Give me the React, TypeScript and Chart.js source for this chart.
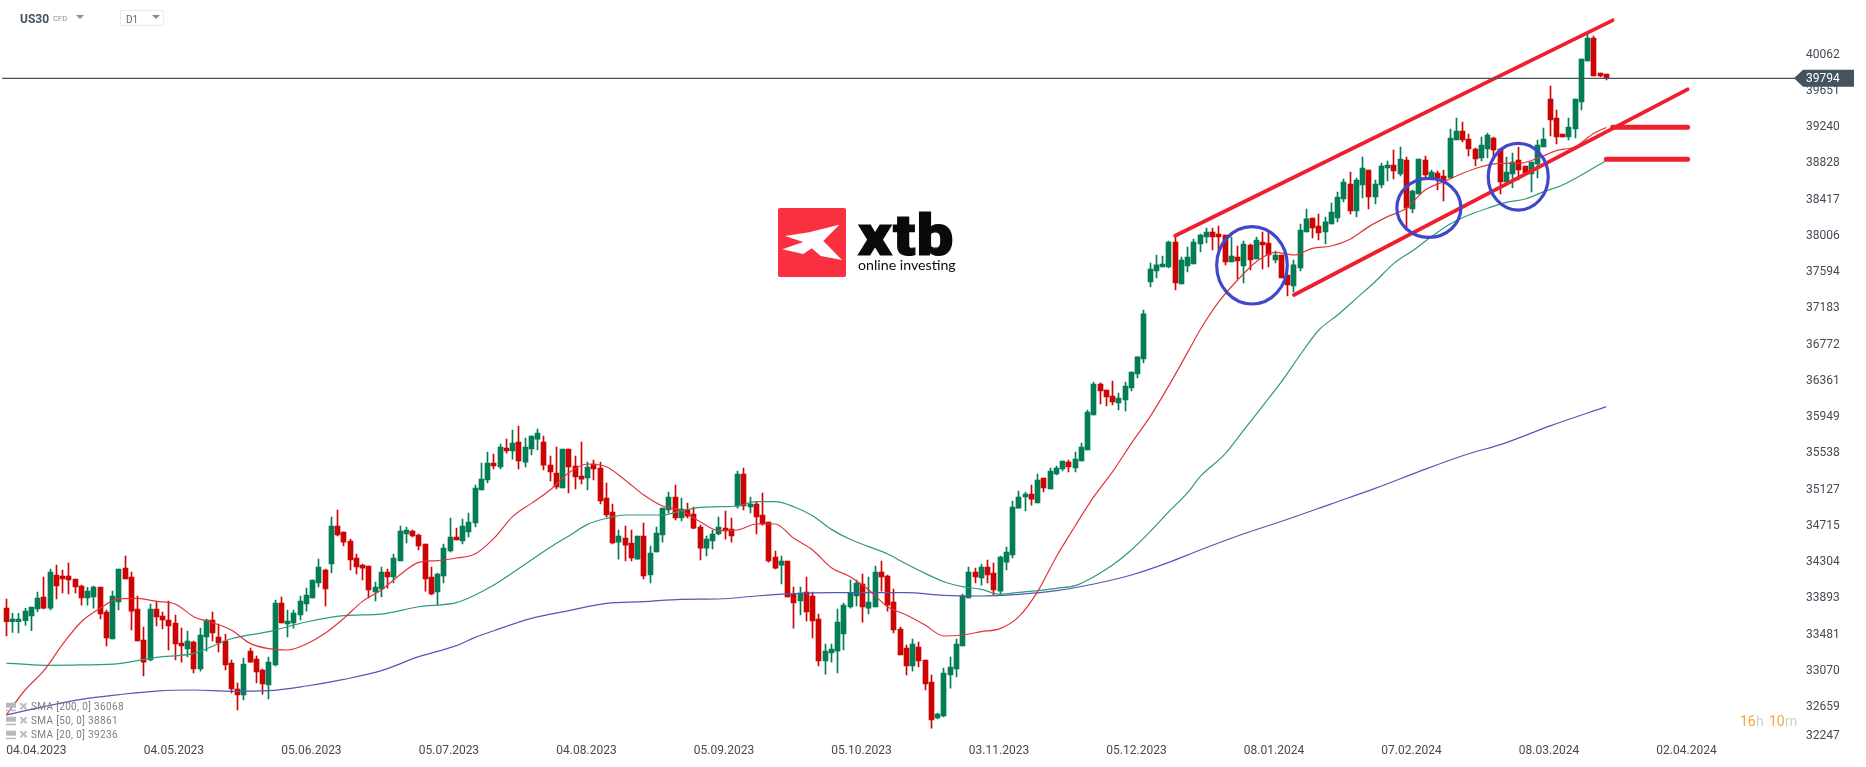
import { useEffect, useRef } from 'react';
import { Chart, registerables } from 'chart.js';

Chart.register(...registerables);

const opens = [
  33782, 33627, 33627, 33639, 33692, 33771, 33907, 33782, 34157, 34146, 34146, 34112, 34032, 33896, 33907, 34021, 33737, 33431, 33851, 34236,
  34134, 33771, 33419, 33192, 33771, 33692, 33646, 33612, 33385, 33317, 33397, 33090, 33453, 33646, 33453, 33408, 33158, 32863, 32795, 33294,
  33204, 33079, 32909, 33136, 33839, 33601, 33612, 33703, 33828, 33896, 34066, 34214, 34282, 34713, 34645, 34543, 34350, 34270, 34259, 33964,
  33998, 34191, 34134, 34316, 34622, 34656, 34611, 34509, 34134, 33964, 34146, 34429, 34588, 34543, 34645, 34747, 35122, 35235, 35428, 35383,
  35598, 35564, 35666, 35439, 35587, 35700, 35666, 35405, 35315, 35144, 35587, 35394, 35280, 35258, 35417, 35371, 35031, 34872, 34531, 34577,
  34520, 34338, 34600, 34157, 34418, 34611, 34895, 35042, 34804, 34895, 34849, 34702, 34463, 34543, 34622, 34690, 34679, 34940, 35303, 34929,
  34963, 34838, 34758, 34361, 34270, 34316, 33941, 33862, 33964, 33919, 33658, 33181, 33272, 33294, 33487, 33794, 33919, 34055, 33782, 33794,
  34191, 34146, 33851, 33544, 33328, 33124, 33340, 33192, 32943, 32534, 32557, 33022, 33090, 33351, 33896, 34191, 34123, 34248, 34180, 33975,
  34304, 34384, 34917, 35042, 35076, 34974, 35258, 35133, 35303, 35360, 35439, 35371, 35451, 35576, 35973, 36325, 36257, 36189, 36110, 36144,
  36280, 36439, 36609, 37483, 37607, 37653, 37653, 37936, 37460, 37664, 37687, 37914, 37993, 38050, 38027, 38016, 37709, 37766, 37664, 37902,
  37744, 37936, 37925, 37732, 37789, 37562, 37437, 37641, 38050, 38209, 38118, 38050, 38141, 38209, 38425, 38595, 38288, 38583, 38754, 38447,
  38583, 38776, 38810, 38708, 38867, 38311, 38481, 38867, 38663, 38720, 38686, 38663, 39094, 39196, 39105, 38992, 38890, 38992, 39117, 38992,
  38617, 38708, 38867, 38799, 38708, 38822, 39015, 39559, 39344, 39162, 39128, 39219, 39525, 39991, 40252, 39855, 39843,
];
const closes = [
  33627, 33658, 33658, 33748, 33794, 33896, 33782, 34191, 34032, 34112, 34100, 34021, 33896, 33975, 34021, 33714, 33442, 33919, 34225, 34112,
  33748, 33408, 33169, 33771, 33680, 33646, 33578, 33374, 33351, 33408, 33090, 33476, 33646, 33499, 33385, 33136, 32863, 32795, 33147, 33169,
  33056, 32920, 33169, 33839, 33612, 33635, 33726, 33862, 33930, 34100, 34248, 33998, 34713, 34611, 34531, 34327, 34248, 34236, 33987, 34021,
  34191, 34134, 34350, 34656, 34668, 34600, 34486, 34112, 33941, 34168, 34463, 34588, 34554, 34713, 34758, 35144, 35246, 35428, 35394, 35610,
  35564, 35655, 35451, 35610, 35734, 35768, 35405, 35326, 35156, 35587, 35383, 35269, 35246, 35383, 35360, 34997, 34838, 34520, 34600, 34497,
  34350, 34600, 34146, 34407, 34634, 34917, 35042, 34804, 34906, 34826, 34690, 34463, 34565, 34622, 34702, 34656, 34600, 35303, 34940, 34963,
  34815, 34736, 34316, 34236, 34316, 33907, 33839, 33953, 33737, 33635, 33181, 33294, 33317, 33623, 33816, 33953, 34066, 33794, 33851, 34191,
  34134, 33816, 33533, 33249, 33124, 33374, 33181, 32920, 32511, 32579, 33045, 33113, 33374, 33919, 34191, 34134, 34248, 34157, 33987, 34361,
  34418, 34929, 35042, 35076, 35019, 35235, 35144, 35337, 35371, 35451, 35383, 35473, 35610, 36007, 36325, 36246, 36178, 36121, 36166, 36302,
  36461, 36632, 37120, 37630, 37676, 37687, 37936, 37471, 37732, 37766, 37936, 38016, 38050, 37993, 37993, 37709, 37778, 37721, 37914, 37732,
  37959, 37902, 37789, 37789, 37528, 37449, 37676, 38073, 38198, 38095, 38039, 38164, 38277, 38447, 38617, 38288, 38640, 38776, 38447, 38595,
  38799, 38810, 38742, 38878, 38322, 38515, 38878, 38697, 38731, 38663, 38617, 39117, 39196, 39094, 38992, 38878, 39037, 39151, 38981, 38617,
  38731, 38844, 38754, 38720, 38844, 39037, 39105, 39321, 39128, 39128, 39242, 39559, 40013, 40252, 39820, 39820, 39794,
];
const highs = [
  33885, 33722, 33722, 33779, 33794, 33964, 34134, 34225, 34270, 34214, 34293, 34112, 34043, 34017, 34032, 34021, 33760, 33975, 34225, 34373,
  34191, 33919, 33567, 33828, 33862, 33737, 33862, 33703, 33555, 33521, 33408, 33555, 33658, 33737, 33601, 33487, 33192, 32931, 33215, 33328,
  33238, 33090, 33226, 33873, 33907, 33760, 33760, 33919, 34009, 34100, 34338, 34225, 34815, 34895, 34645, 34565, 34395, 34282, 34259, 34077,
  34248, 34225, 34395, 34713, 34702, 34668, 34622, 34509, 34248, 34180, 34509, 34804, 34690, 34793, 34861, 35178, 35428, 35553, 35530, 35644,
  35700, 35803, 35848, 35712, 35734, 35814, 35734, 35507, 35610, 35587, 35587, 35507, 35666, 35439, 35462, 35439, 35201, 34963, 34668, 34713,
  34668, 34600, 34747, 34486, 34702, 34917, 35099, 35178, 35031, 34974, 34929, 34724, 34600, 34668, 34815, 34883, 34804, 35337, 35371, 35042,
  34985, 35088, 34758, 34429, 34373, 34316, 34021, 34021, 34134, 33964, 33714, 33374, 33374, 33771, 33839, 34100, 34100, 34168, 34134, 34259,
  34316, 34157, 33998, 33567, 33362, 33431, 33397, 33192, 33022, 32591, 33101, 33226, 33431, 33941, 34248, 34236, 34282, 34327, 34293, 34373,
  34475, 34997, 35110, 35099, 35178, 35303, 35258, 35371, 35394, 35451, 35462, 35553, 35655, 36030, 36348, 36337, 36257, 36359, 36223, 36348,
  36461, 36632, 37165, 37698, 37789, 37778, 37948, 38005, 37766, 37880, 37971, 38027, 38095, 38095, 38118, 38016, 37993, 37891, 37948, 37914,
  37993, 38050, 38050, 37834, 37789, 37562, 37732, 38141, 38311, 38209, 38254, 38220, 38379, 38504, 38651, 38731, 38663, 38901, 38754, 38640,
  38833, 38856, 38981, 39015, 38901, 38527, 38878, 38913, 38754, 38742, 38754, 39219, 39344, 39298, 39162, 39003, 39128, 39174, 39128, 38992,
  38901, 38947, 39015, 38799, 38844, 39094, 39230, 39707, 39435, 39162, 39344, 39559, 40013, 40297, 40274, 39855, 39843,
];
const lows = [
  33465, 33506, 33499, 33589, 33525, 33741, 33771, 33760, 33885, 33953, 33941, 33953, 33816, 33816, 33782, 33658, 33351, 33431, 33760, 34112,
  33533, 33408, 33011, 33181, 33578, 33544, 33306, 33192, 33169, 33226, 33045, 33067, 33294, 33408, 33283, 33079, 32818, 32625, 32738, 33169,
  32931, 32806, 32750, 33124, 33612, 33453, 33555, 33646, 33748, 33896, 34021, 33805, 34180, 34600, 34486, 34214, 34168, 34100, 33896, 33862,
  33907, 34009, 34066, 34316, 34520, 34588, 34441, 33975, 33930, 33816, 34066, 34418, 34554, 34509, 34588, 34702, 35122, 35201, 35360, 35360,
  35541, 35473, 35360, 35383, 35519, 35576, 35349, 35224, 35133, 35144, 35088, 35133, 35190, 35122, 35235, 34963, 34815, 34509, 34338, 34316,
  34316, 34338, 34112, 34066, 34418, 34531, 34861, 34781, 34770, 34804, 34679, 34327, 34373, 34452, 34611, 34565, 34531, 34917, 34895, 34861,
  34622, 34724, 34304, 34225, 34055, 33907, 33555, 33703, 33635, 33442, 33124, 33033, 33169, 33045, 33306, 33782, 33805, 33623, 33714, 33794,
  33975, 33748, 33499, 33249, 33022, 33067, 33113, 32852, 32420, 32523, 32545, 32874, 32999, 33351, 33896, 34066, 34043, 34066, 33930, 33930,
  34214, 34350, 34917, 34883, 34951, 34974, 35099, 35133, 35292, 35337, 35326, 35326, 35451, 35576, 35973, 36098, 36076, 36087, 36030, 36018,
  36246, 36393, 36564, 37426, 37528, 37653, 37641, 37392, 37460, 37596, 37687, 37823, 37925, 37846, 37846, 37676, 37709, 37517, 37471, 37619,
  37744, 37630, 37653, 37698, 37528, 37324, 37369, 37607, 38050, 37982, 37959, 37914, 38141, 38164, 38391, 38254, 38220, 38436, 38311, 38368,
  38549, 38629, 38651, 38686, 38073, 38266, 38481, 38674, 38663, 38527, 38402, 38663, 39094, 39071, 38913, 38799, 38856, 38890, 38867, 38481,
  38617, 38549, 38640, 38708, 38504, 38663, 39015, 39140, 39049, 39128, 39094, 39117, 39435, 39991, 39820, 39809, 39775,
];

const sma20Bars = [
  0, 3, 6, 9, 12, 15, 18, 21, 24, 27, 30, 33, 36, 39, 42, 45, 48, 51, 54, 57, 60, 63, 66, 69, 72, 75, 78, 81, 84, 87, 90, 93, 96, 99, 102, 105,
  108, 111, 114, 117, 120, 123, 126, 129, 132, 135, 138, 141, 144, 147, 150, 153, 156, 159, 162, 165, 168, 171, 174, 177, 180, 183, 186, 189,
  191, 194, 197, 200, 203, 206, 209, 212, 215, 218, 221, 224, 227, 230, 233, 236, 239, 242, 245, 248, 251, 254, 256,
];
const sma20 = [
  32568, 32852, 33071, 33370, 33627, 33779, 33888, 33892, 33858, 33828, 33684, 33616, 33533, 33381, 33321, 33306, 33374, 33495, 33665, 33858,
  33987, 34161, 34301, 34320, 34350, 34395, 34573, 34819, 34970, 35122, 35318, 35417, 35386, 35235, 35065, 34940, 34887, 34762, 34660, 34668,
  34736, 34736, 34573, 34441, 34240, 34138, 33987, 33798, 33703, 33589, 33465, 33476, 33514, 33548, 33684, 33968, 34365, 34713, 35046, 35330,
  35651, 35954, 36306, 36684, 36938, 37259, 37505, 37713, 37819, 37789, 37865, 37891, 37967, 38111, 38224, 38319, 38527, 38621, 38716, 38791,
  38829, 38829, 38886, 38973, 39018, 39170, 39236,
];
const sma50Bars = [
  0, 6, 12, 18, 24, 30, 36, 42, 48, 54, 60, 66, 72, 75, 78, 81, 84, 87, 90, 93, 96, 99, 102, 105, 108, 111, 114, 117, 120, 123, 126, 129, 132,
  135, 138, 141, 144, 147, 150, 153, 156, 159, 162, 165, 168, 171, 174, 177, 180, 183, 186, 189, 191, 195, 198, 201, 204, 207, 210, 213, 216,
  219, 222, 225, 228, 231, 234, 237, 240, 243, 246, 249, 252, 254, 256,
];
const sma50 = [
  33158, 33132, 33136, 33151, 33223, 33268, 33434, 33514, 33624, 33695, 33714, 33797, 33843, 33930, 34043, 34183, 34327, 34471, 34600, 34732,
  34800, 34838, 34838, 34838, 34887, 34925, 34932, 34940, 34989, 34989, 34932, 34830, 34675, 34562, 34479, 34395, 34282, 34176, 34081, 34025,
  33994, 33938, 33960, 33979, 34006, 34036, 34138, 34270, 34441, 34649, 34876, 35091, 35273, 35531, 35803, 36075, 36348, 36654, 36938, 37108,
  37297, 37486, 37694, 37838, 37997, 38141, 38243, 38319, 38387, 38425, 38508, 38583, 38697, 38780, 38861,
];
const sma200Bars = [
  0, 6, 12, 18, 24, 30, 36, 42, 48, 54, 60, 66, 72, 75, 78, 84, 90, 96, 102, 108, 114, 120, 126, 132, 138, 144, 150, 156, 162, 168, 174, 180,
  186, 191, 198, 205, 212, 219, 226, 233, 240, 247, 256,
];
const sma200 = [
  32568, 32663, 32746, 32799, 32840, 32852, 32837, 32844, 32897, 32973, 33071, 33230, 33355, 33449, 33525, 33665, 33752, 33835, 33854, 33881,
  33885, 33919, 33945, 33956, 33956, 33956, 33926, 33919, 33938, 33979, 34055, 34157, 34301, 34441, 34625, 34790, 34965, 35140, 35330, 35510,
  35660, 35850, 36068,
];

// hand drawn channel on the chart: [bar, price] pairs
const channelTop = [[187, 38008], [257, 40452]];
const channelBottom = [[206, 37335], [269, 39669]];
const levelA = [[257, 39238], [269, 39238]];
const levelB = [[256, 38875], [269, 38875]];
const circleBars = [199.3, 227.6, 241.9];
const circlePrices = [37672, 38324, 38677];
const circleRadii = [[35.3, 38.7], [32, 29.5], [30, 33.3]];

const yTicks = [
  32247, 32659, 33070, 33481, 33893, 34304, 34715, 35127, 35538, 35949, 36361, 36772, 37183, 37594, 38006, 38417, 38828, 39240, 39651, 40062,
];
const dateTicks = [
  '04.04.2023', '04.05.2023', '05.06.2023', '05.07.2023', '04.08.2023', '05.09.2023', '05.10.2023', '03.11.2023', '05.12.2023', '08.01.2024',
  '07.02.2024', '08.03.2024', '02.04.2024',
];
const lastPrice = 39794;
const legendRows = ['SMA [200, 0] 36068', 'SMA [50, 0] 38861', 'SMA [20, 0] 39236'];

const BAR_SLOTS = 287;
const TICK_EVERY = 22;
const GREEN = '#027d55';
const RED = '#cc0404';
const LINE_RED = '#f01f2d';

const slotLabels = Array.from({ length: BAR_SLOTS }, (_, i) => (i % TICK_EVERY === 0 ? dateTicks[i / TICK_EVERY] ?? '' : ''));
const candleColors = opens.map((o, i) => (closes[i] >= o ? GREEN : RED));

// line datasets only get a value where one was read, gaps are spanned
const sparse = (bars: number[], values: number[]) => {
  const out: (number | null)[] = new Array(BAR_SLOTS).fill(null);
  bars.forEach((b, i) => { out[b] = values[i]; });
  return out;
};
const sparsePairs = (pairs: number[][]) => sparse(pairs.map(p => p[0]), pairs.map(p => p[1]));

const maLine = (data: (number | null)[], color: string) => ({
  type: 'line' as const,
  data,
  borderColor: color,
  borderWidth: 1.2,
  pointRadius: 0,
  spanGaps: true,
  cubicInterpolationMode: 'monotone' as const,
  order: 1,
});
const drawnLine = (pairs: number[][], width: number) => ({
  type: 'line' as const,
  data: sparsePairs(pairs),
  borderColor: LINE_RED,
  borderWidth: width,
  borderCapStyle: 'round' as const,
  pointRadius: 0,
  spanGaps: true,
  order: 0,
});

const triangle = (ctx: CanvasRenderingContext2D, x: number, y: number, w: number, h: number) => {
  ctx.beginPath();
  ctx.moveTo(x, y);
  ctx.lineTo(x + w, y);
  ctx.lineTo(x + w / 2, y + h);
  ctx.closePath();
  ctx.fill();
};

const drawHeader = (ctx: CanvasRenderingContext2D) => {
  ctx.textBaseline = 'middle';
  ctx.fillStyle = '#44525d';
  ctx.font = '700 12px Roboto';
  ctx.fillText('US30', 20, 19.5);
  ctx.fillStyle = '#8a8a8a';
  ctx.font = '7.6px Roboto';
  ctx.fillText('CFD', 53, 19.5);
  ctx.fillStyle = '#8c8c8c';
  triangle(ctx, 76, 15, 8, 4);
  ctx.strokeStyle = '#ececec';
  ctx.lineWidth = 1;
  ctx.strokeRect(120.5, 10.5, 43, 15);
  ctx.fillStyle = '#6a6a6a';
  ctx.font = '10px Roboto';
  ctx.fillText('D1', 126, 20);
  ctx.fillStyle = '#8c8c8c';
  triangle(ctx, 152, 15, 8, 4);
};

const drawLogo = (ctx: CanvasRenderingContext2D) => {
  ctx.fillStyle = '#f9303f';
  ctx.beginPath();
  ctx.roundRect(778, 208, 68, 69, 2);
  ctx.fill();
  ctx.fillStyle = '#fff';
  ctx.beginPath();
  ctx.moveTo(785, 236);
  ctx.lineTo(809, 232.3);
  ctx.lineTo(839.3, 224.7);
  ctx.lineTo(823.3, 241);
  ctx.lineTo(842, 260);
  ctx.lineTo(820.7, 256);
  ctx.lineTo(811.7, 248.3);
  ctx.lineTo(803.3, 254);
  ctx.lineTo(782.3, 249.3);
  ctx.lineTo(803.3, 242);
  ctx.closePath();
  ctx.fill();
  ctx.fillStyle = '#0a0a0a';
  ctx.strokeStyle = '#0a0a0a';
  ctx.textBaseline = 'alphabetic';
  ctx.save();
  ctx.translate(858, 255);
  ctx.scale(1.13, 1);
  ctx.font = '900 58px Roboto';
  (ctx as any).letterSpacing = '1px';
  ctx.lineWidth = 1.2;
  ctx.fillText('xtb', 0, 0);
  ctx.strokeText('xtb', 0, 0);
  ctx.restore();
  ctx.font = '400 14.2px Lato';
  ctx.fillText('online investing', 858, 270);
};

const drawLegend = (ctx: CanvasRenderingContext2D) => {
  legendRows.forEach((row, i) => {
    const y = 707.7 + i * 14;
    ctx.fillStyle = '#b9b9b9';
    ctx.fillRect(6, y - 5, 10, 5);
    ctx.fillRect(6, y + 2, 10, 1.5);
    ctx.strokeStyle = '#bdbdbd';
    ctx.lineWidth = 2;
    ctx.beginPath();
    ctx.moveTo(20.5, y - 4.5);
    ctx.lineTo(26.5, y + 1.5);
    ctx.moveTo(26.5, y - 4.5);
    ctx.lineTo(20.5, y + 1.5);
    ctx.stroke();
    ctx.fillStyle = '#7d7d7d';
    ctx.textBaseline = 'middle';
    ctx.font = '10px Roboto';
    (ctx as any).letterSpacing = '0.35px';
    ctx.fillText(row, 31, y);
    (ctx as any).letterSpacing = '0px';
  });
};

const drawTimer = (ctx: CanvasRenderingContext2D) => {
  const parts: [string, number, string][] = [['16', 1740, '#f7a33c'], ['h', 1756, '#cfcfcf'], ['10', 1769, '#f7a33c'], ['m', 1785, '#cfcfcf']];
  ctx.textBaseline = 'middle';
  ctx.font = '14px Roboto';
  parts.forEach(([t, x, c]) => {
    ctx.fillStyle = c;
    ctx.fillText(t, x, 722);
  });
};

const overlayPlugin = {
  id: 'overlay',
  // snap candles to whole pixels like the trading platform does
  afterDatasetsUpdate(chart: any) {
    chart.getSortedVisibleDatasetMetas().forEach((meta: any) => {
      if (meta.type !== 'bar') return;
      meta.data.forEach((el: any) => { el.x = Math.round(el.x - 0.5) + 0.5; });
    });
  },
  afterDraw(chart: any) {
    const { ctx, scales } = chart;
    const xs = scales.x;
    const ys = scales.y;
    ctx.save();

    const py = ys.getPixelForValue(lastPrice);
    ctx.strokeStyle = '#44535e';
    ctx.lineWidth = 1.2;
    ctx.beginPath();
    ctx.moveTo(2, py);
    ctx.lineTo(1796, py);
    ctx.stroke();

    // circles marking the pullbacks
    ctx.strokeStyle = '#4147c9';
    ctx.lineWidth = 3.2;
    circleBars.forEach((b, i) => {
      const cx = xs.getPixelForValue(0) + b * (xs.getPixelForValue(1) - xs.getPixelForValue(0));
      const cy = ys.getPixelForValue(circlePrices[i]);
      ctx.beginPath();
      ctx.ellipse(cx, cy, circleRadii[i][0], circleRadii[i][1], 0, 0, Math.PI * 2);
      ctx.stroke();
    });

    // price tag on the axis
    ctx.fillStyle = '#44535e';
    ctx.beginPath();
    ctx.moveTo(1794, py);
    ctx.lineTo(1803, py - 8.5);
    ctx.lineTo(1854, py - 8.5);
    ctx.lineTo(1854, py + 8.5);
    ctx.lineTo(1803, py + 8.5);
    ctx.closePath();
    ctx.fill();
    ctx.fillStyle = '#fff';
    ctx.font = '12px Roboto';
    ctx.textBaseline = 'middle';
    ctx.fillText(String(lastPrice), 1806, py + 1);

    drawHeader(ctx);
    drawLogo(ctx);
    drawLegend(ctx);
    drawTimer(ctx);
    ctx.restore();
  },
};

export default function App() {
  const canvasRef = useRef<HTMLCanvasElement>(null);

  useEffect(() => {
    const el = canvasRef.current;
    if (!el) return;

    const chart = new Chart(el, {
      type: 'bar',
      data: {
        labels: slotLabels,
        datasets: [
          maLine(sparse(sma20Bars, sma20), '#e2343c'),
          maLine(sparse(sma50Bars, sma50), '#2f9a78'),
          maLine(sparse(sma200Bars, sma200), '#5159b4'),
          drawnLine(channelTop, 3.8),
          drawnLine(channelBottom, 3.8),
          drawnLine(levelA, 5),
          drawnLine(levelB, 5),
          {
            data: opens.map((o, i) => [o, closes[i]]),
            backgroundColor: candleColors,
            grouped: false,
            barPercentage: 1,
            categoryPercentage: 1,
            maxBarThickness: 5,
            order: 2,
          },
          {
            data: lows.map((l, i) => [l, highs[i]]),
            backgroundColor: candleColors,
            grouped: false,
            barPercentage: 1,
            categoryPercentage: 1,
            maxBarThickness: 1,
            order: 3,
          },
        ] as any,
      },
      options: {
        responsive: false,
        animation: false,
        layout: { padding: { left: 3.2, right: 0, top: 0, bottom: 0 } },
        plugins: { legend: { display: false }, tooltip: { enabled: false } },
        scales: {
          x: {
            grid: { display: false, drawTicks: false },
            border: { display: false },
            afterFit: (s: any) => {
              s.height = 23.7;
              s.paddingLeft = 0;
              s.paddingRight = 0;
            },
            ticks: {
              autoSkip: false,
              maxRotation: 0,
              minRotation: 0,
              align: 'start',
              padding: 0,
              color: '#434b54',
              font: { family: 'Roboto', size: 12 },
            },
          },
          y: {
            position: 'right',
            min: 32247,
            max: 40683,
            grid: { display: false, drawTicks: false },
            border: { display: false },
            afterBuildTicks: (s: any) => {
              s.ticks = yTicks.map(value => ({ value }));
            },
            afterFit: (s: any) => {
              s.width = 69;
              s.paddingTop = 0;
              s.paddingBottom = 0;
            },
            ticks: {
              autoSkip: false,
              padding: 9,
              color: '#434b54',
              font: { family: 'Roboto', size: 12 },
              // the lowest label is pushed up so it stays above the date row
              callback: (v: any) => (v === yTicks[0] ? [String(v), ''] : String(v)),
            },
          },
        },
      },
      plugins: [overlayPlugin],
    } as any);

    return () => chart.destroy();
  }, []);

  return (
    <div style={{ position: 'absolute', left: 0, top: 0, width: 1866, height: 767, background: '#fff' }}>
      <canvas ref={canvasRef} width={1866} height={767} style={{ display: 'block' }} />
    </div>
  );
}
